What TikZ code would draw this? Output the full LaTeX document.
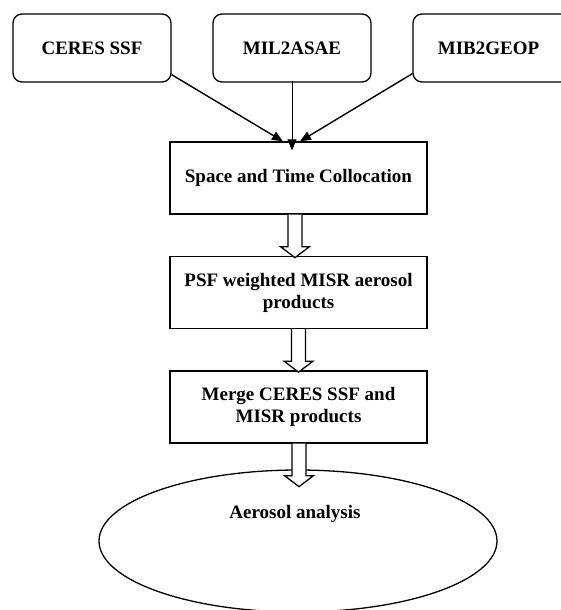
\documentclass[tikz,border=0pt]{standalone}
\usepackage{fontspec}
\setmainfont{Liberation Serif}
\usetikzlibrary{shapes.geometric,arrows.meta,calc}
\begin{document}
\begin{tikzpicture}[x=1pt,y=1pt,
  every node/.style={font=\fontsize{19}{22}\selectfont\bfseries},
  src/.style={draw,line width=1.3pt,rounded corners=9pt,minimum width=158pt,minimum height=68pt,inner sep=0pt},
  proc/.style={draw,line width=1.3pt,minimum width=257pt,minimum height=72pt,inner sep=0pt,align=center},
  conn/.style={line width=1.4pt,-{Triangle[length=11pt,width=9pt]}},
  hollow/.pic={\draw[line width=1.3pt,fill=white,line join=miter] (-7,0) -- (-7,-32) -- (-14.5,-32) -- (0,-43) -- (14.5,-32) -- (7,-32) -- (7,0);}
]
\clip (0,0) rectangle (561,-610);
\fill[white] (0,0) rectangle (561,-610);

\node[src] (ceres) at (92,-48) {CERES SSF};
\node[src] (mil) at (292,-48) {MIL2ASAE};
\node[src] (mib) at (492,-48) {\hspace*{-7pt}MIB2GEOP};

\node[proc] (space) at (298.5,-178) {Space and Time Collocation};
\node[proc] (psf) at (298.5,-292.5) {PSF weighted MISR aerosol\\products};
\node[proc] (merge) at (298.5,-407) {Merge CERES SSF and\\MISR products};

\node[draw,ellipse,line width=1.3pt,minimum width=398pt,minimum height=142pt,inner sep=0pt] (ana) at (298,-541) {};
\node (anatext) at ($(ana.center)+(-3,27)$) {Aerosol analysis};

\draw[conn] ($(ceres.south east)+(0,8)$) -- ($(space.north)+(-15.5,0)$);
\draw[conn,line width=1pt] ($(mil.south)+(0,2)$) -- ($(mil.south|-space.north)+(0,-9)$);
\draw[conn] ($(mib.south west)+(0,9)$) -- ($(space.north)+(1.5,0)$);

\pic at ($(space.south)+(-3.5,0)$) {hollow};
\pic at (psf.south) {hollow};
\pic at ($(merge.south)+(0.5,0)$) {hollow};
\end{tikzpicture}
\end{document}
